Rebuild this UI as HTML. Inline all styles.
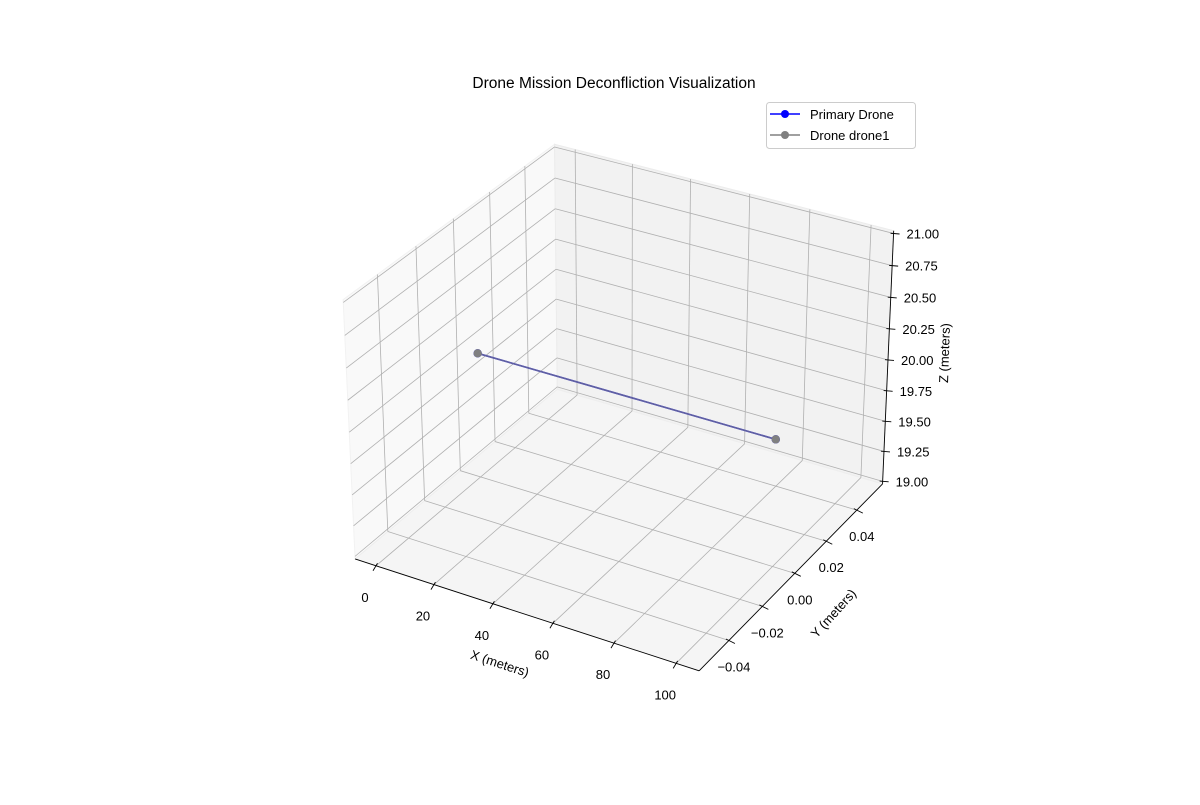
<!DOCTYPE html>
<html><head><meta charset="utf-8"><style>
html,body{margin:0;padding:0;background:#fff;}
svg text{font-family:"Liberation Sans","DejaVu Sans",sans-serif;fill:#000;}
</style></head><body>
<svg id="chart" width="1200" height="800" viewBox="0 0 1200 800" xmlns="http://www.w3.org/2000/svg">
<rect width="1200" height="800" fill="#fff"/>
<text x="614" y="88" font-size="15.5" text-anchor="middle">Drone Mission Deconfliction Visualization</text>
<g id="panes"></g>
<g id="grid"></g>
<g id="axes"></g>
<g id="series"></g>
<text x="500" y="668" font-size="13" text-anchor="middle" transform="rotate(18 500 663)">X (meters)</text>
<text x="833" y="618" font-size="13" text-anchor="middle" transform="rotate(-48 833 613)">Y (meters)</text>
<text x="944" y="358" font-size="13" text-anchor="middle" transform="rotate(-88 944 353)">Z (meters)</text>
<g>
<rect x="766.5" y="102.5" width="149" height="46" rx="3" fill="#fff" fill-opacity="0.8" stroke="#ccc"/>
<g>
<line x1="770" y1="114" x2="800" y2="114" stroke="#0000ff" stroke-width="1.5"/>
<circle cx="785" cy="114" r="4" fill="#0000ff"/>
<text x="810" y="119" font-size="13">Primary Drone</text></g>
<g>
<line x1="770" y1="135" x2="800" y2="135" stroke="#808080" stroke-width="1.5"/>
<circle cx="785" cy="135" r="4" fill="#808080"/>
<text x="810" y="140" font-size="13">Drone drone1</text></g>
</g>
</svg>
<script>
// ---- data ----
const primaryX = [0, 100];
const primaryY = [0, 0];
const primaryZ = [20, 20];
const drone1X = [0, 100];
const drone1Y = [0, 0];
const drone1Z = [20, 20];
const xTicks = [0, 20, 40, 60, 80, 100];
const yTicks = [-0.04, -0.02, 0, 0.02, 0.04];
const zTicks = [19, 19.25, 19.5, 19.75, 20, 20.25, 20.5, 20.75, 21];
const yTickLabels = ["\u22120.04", "\u22120.02", "0.00", "0.02", "0.04"];
const zTickLabels = ["19.00","19.25","19.50","19.75","20.00","20.25","20.50","20.75","21.00"];

// ---- projection (matplotlib-like, azim -60, elev 30) ----
const X0=-7.3, X1=107.3, Y0=-0.0573, Y1=0.0573, Z0=18.9785, Z1=21.0215;
const HB=[0.5714,0.5714,0.4286];
const U=[0.866,0.5,0], V=[-0.25,0.433,0.866], W=[0.433,-0.75,0.5];
const S=3450, CX=623.5, CY=395.4;
function P(x,y,z){
  const q=[((x-X0)/(X1-X0)*2-1)*HB[0],((y-Y0)/(Y1-Y0)*2-1)*HB[1],((z-Z0)/(Z1-Z0)*2-1)*HB[2]];
  const d=(a)=>a[0]*q[0]+a[1]*q[1]+a[2]*q[2];
  const den=10-d(W);
  return [CX+S*d(U)/den, CY-S*d(V)/den];
}
const NS="http://www.w3.org/2000/svg";
function mk(tag,attrs,parent){const e=document.createElementNS(NS,tag);for(const k in attrs)e.setAttribute(k,attrs[k]);parent.appendChild(e);return e;}
function poly(pts){return pts.map(p=>p[0].toFixed(2)+","+p[1].toFixed(2)).join(" ");}
const panes=document.getElementById('panes'), grid=document.getElementById('grid'), axes=document.getElementById('axes'), series=document.getElementById('series');

// panes
let e;
e=mk('polygon',{points:poly([P(X0,Y0,Z0),P(X0,Y1,Z0),P(X0,Y1,Z1),P(X0,Y0,Z1)]),fill:'#f9f9f9',stroke:'#f2f2f2'},panes);


e=mk('polygon',{points:poly([P(X0,Y1,Z0),P(X1,Y1,Z0),P(X1,Y1,Z1),P(X0,Y1,Z1)]),fill:'#f2f2f2',stroke:'#ececec'},panes);


e=mk('polygon',{points:poly([P(X0,Y0,Z0),P(X1,Y0,Z0),P(X1,Y1,Z0),P(X0,Y1,Z0)]),fill:'#f5f5f5',stroke:'#eeeeee'},panes);



function gl(a,b,name){const l=mk('line',{x1:a[0],y1:a[1],x2:b[0],y2:b[1],stroke:'#b0b0b0','stroke-width':0.8},grid);

}
xTicks.forEach(v=>{gl(P(v,Y0,Z0),P(v,Y1,Z0),'x-grid');gl(P(v,Y1,Z0),P(v,Y1,Z1),'x-grid');});
yTicks.forEach(v=>{gl(P(X0,v,Z0),P(X1,v,Z0),'y-grid');gl(P(X0,v,Z0),P(X0,v,Z1),'y-grid');});
zTicks.forEach(v=>{gl(P(X0,Y0,v),P(X0,Y1,v),'z-grid');gl(P(X0,Y1,v),P(X1,Y1,v),'z-grid');});

// axis lines
function al(a,b,name){const l=mk('line',{x1:a[0],y1:a[1],x2:b[0],y2:b[1],stroke:'#000','stroke-width':0.9},axes);

}
al(P(X0,Y0,Z0),P(X1,Y0,Z0),'x-axis-line');
al(P(X1,Y0,Z0),P(X1,Y1,Z0),'y-axis-line');
al(P(X1,Y1,Z0),P(X1,Y1,Z1),'z-axis-line');

function tick(p,dx,dy){const l=mk('line',{x1:p[0]-dx*0.5,y1:p[1]-dy*0.5,x2:p[0]+dx,y2:p[1]+dy,stroke:'#000','stroke-width':0.9},axes);

}
function lab(x,y,s,anchor,name){const t=mk('text',{x:x,y:y,'font-size':13,'text-anchor':anchor},axes);t.textContent=s;

}
xTicks.forEach(v=>{const p=P(v,Y0,Z0);tick(p,-3,5);lab(p[0]-11,p[1]+36,String(v),'middle','x-tick-label');});
yTicks.forEach((v,i)=>{const p=P(X1,v,Z0);tick(p,6,3);lab(p[0]+5,p[1]+31,yTickLabels[i],'middle','y-tick-label');});
zTicks.forEach((v,i)=>{const p=P(X1,Y1,v);tick(p,6,0.5);lab(p[0]+13,p[1]+5,zTickLabels[i],'start','z-tick-label');});

// series
function drawSeries(xs,ys,zs,color,op,mop,name){
  const g=mk('g',{},series);
  
  
  const pts=xs.map((x,i)=>P(x,ys[i],zs[i]));
  mk('polyline',{points:poly(pts),fill:'none',stroke:color,'stroke-width':1.6,'stroke-opacity':op},g);
  pts.forEach(p=>{const c=mk('circle',{cx:p[0],cy:p[1],r:4.2,fill:color,'fill-opacity':mop},g);
  
  });
}
drawSeries(primaryX,primaryY,primaryZ,'#0000ff',1,1,'primary-drone-path');
drawSeries(drone1X,drone1Y,drone1Z,'#808080',0.75,1,'drone1-path');
</script>
</body></html>
